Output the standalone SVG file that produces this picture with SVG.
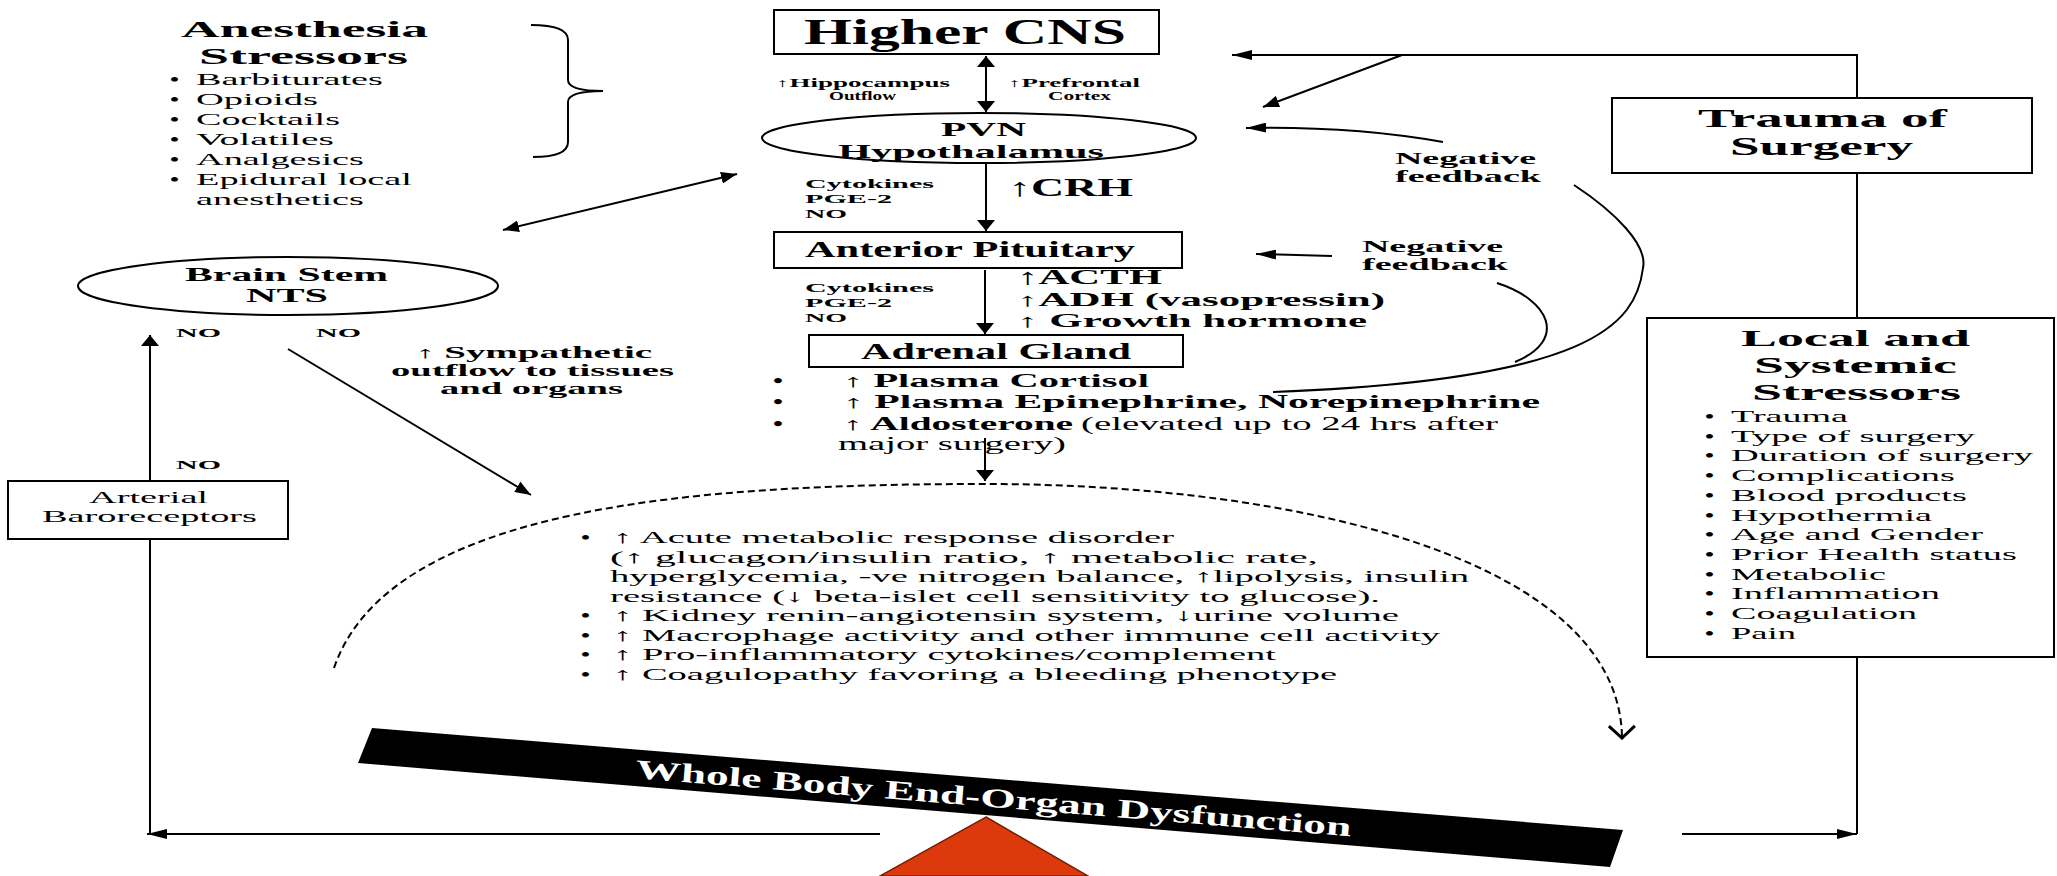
<svg xmlns="http://www.w3.org/2000/svg" width="2057" height="876" viewBox="0 0 2057 876">
<style>
text{font-family:"Liberation Serif","Times New Roman",serif;fill:#000}
.b{font-weight:bold}
.ln{stroke:#000;stroke-width:2;fill:none}
.box{fill:#fff;stroke:#000;stroke-width:2}
.h1{font-size:24px;font-weight:bold}
.h3{font-size:24px;font-weight:bold}
.li{font-size:17.5px;font-weight:normal}
.bu{font-size:17.5px;font-weight:bold}
.sm{font-size:13.3px;font-weight:bold}
.xs{font-size:11.5px;font-weight:bold}
.md{font-size:16px;font-weight:bold}
</style>
<defs>
<marker id="ah" viewBox="0 0 20 10" refX="20" refY="5" markerWidth="20" markerHeight="10" markerUnits="userSpaceOnUse" orient="auto-start-reverse"><path d="M0,0 L20,5 L0,10 z" fill="#000"/></marker>
<marker id="av" viewBox="0 0 11 18" refX="11" refY="9" markerWidth="11" markerHeight="18" markerUnits="userSpaceOnUse" orient="auto-start-reverse"><path d="M0,0 L11,9 L0,18 z" fill="#000"/></marker>
<marker id="ad" viewBox="0 0 16 12" refX="16" refY="6" markerWidth="16" markerHeight="12" markerUnits="userSpaceOnUse" orient="auto-start-reverse"><path d="M0,0 L16,6 L0,12 z" fill="#000"/></marker>
<marker id="aopen" viewBox="-2 -15 16 30" refX="12" refY="0" markerWidth="16" markerHeight="30" markerUnits="userSpaceOnUse" orient="auto"><path d="M0,-13 L12,0 L0,13" fill="none" stroke="#000" stroke-width="3"/></marker>
</defs>
<rect width="2057" height="876" fill="#fff"/>

<g id="connectors">
<line class="ln" x1="986" y1="56" x2="986" y2="112" marker-start="url(#av)" marker-end="url(#av)"/>
<line class="ln" x1="986" y1="164" x2="986" y2="231" marker-end="url(#av)"/>
<line class="ln" x1="985" y1="270" x2="985" y2="334" marker-end="url(#av)"/>
<line class="ln" x1="985" y1="438" x2="985" y2="481" marker-end="url(#av)"/>
<line class="ln" x1="503" y1="230" x2="737" y2="174" marker-start="url(#ad)" marker-end="url(#ad)"/>
<line class="ln" x1="288" y1="349" x2="531" y2="495" marker-end="url(#ad)"/>
<line class="ln" x1="150" y1="481" x2="150" y2="335" marker-end="url(#av)"/>
<line class="ln" x1="150" y1="834" x2="150" y2="539"/>
<line class="ln" x1="880" y1="834" x2="147" y2="834" marker-end="url(#ah)"/>
<line class="ln" x1="1682" y1="834" x2="1857" y2="834" marker-end="url(#ah)"/>
<line class="ln" x1="1857" y1="834" x2="1857" y2="657"/>
<line class="ln" x1="1857" y1="318" x2="1857" y2="173"/>
<polyline class="ln" points="1857,98 1857,55 1232,55" marker-end="url(#ah)"/>
<line class="ln" x1="1402" y1="55" x2="1263" y2="107" marker-end="url(#ad)"/>
<path class="ln" d="M1443,142 Q1353,126 1246,128" marker-end="url(#ah)"/>
<line class="ln" x1="1332" y1="256" x2="1256" y2="254" marker-end="url(#ah)"/>
<path class="ln" d="M1574,185 C1615,212 1648,245 1643,268 C1636,325 1590,380 1273,392" stroke-width="2.5"/>
<path class="ln" d="M1497,283 C1550,300 1568,340 1515,362" stroke-width="2.5"/>
<path class="ln" d="M334,668 C390,505 700,484 985,484 C1300,484 1620,560 1622,738" stroke-width="2.2" stroke-dasharray="7 4" marker-end="url(#aopen)"/>
<path class="ln" d="M531,25 Q568,25 568,40 L568,80 Q568,91 603,91 Q568,91 568,102 L568,142 Q568,157 533,157"/>
</g>

<g id="anesthesia">
<text class="h1"><tspan x="181" y="37" textLength="247" lengthAdjust="spacingAndGlyphs">Anesthesia</tspan><tspan x="199" y="64" textLength="209" lengthAdjust="spacingAndGlyphs">Stressors</tspan></text>
<text class="li"><tspan class="bu" x="170" y="85" textLength="9" lengthAdjust="spacingAndGlyphs">•</tspan><tspan x="196" y="85" textLength="187" lengthAdjust="spacingAndGlyphs">Barbiturates</tspan><tspan class="bu" x="170" y="105" textLength="9" lengthAdjust="spacingAndGlyphs">•</tspan><tspan x="196" y="105" textLength="122" lengthAdjust="spacingAndGlyphs">Opioids</tspan><tspan class="bu" x="170" y="125" textLength="9" lengthAdjust="spacingAndGlyphs">•</tspan><tspan x="196" y="125" textLength="144" lengthAdjust="spacingAndGlyphs">Cocktails</tspan><tspan class="bu" x="170" y="145" textLength="9" lengthAdjust="spacingAndGlyphs">•</tspan><tspan x="196" y="145" textLength="138" lengthAdjust="spacingAndGlyphs">Volatiles</tspan><tspan class="bu" x="170" y="165" textLength="9" lengthAdjust="spacingAndGlyphs">•</tspan><tspan x="196" y="165" textLength="168" lengthAdjust="spacingAndGlyphs">Analgesics</tspan><tspan class="bu" x="170" y="185" textLength="9" lengthAdjust="spacingAndGlyphs">•</tspan><tspan x="196" y="185" textLength="216" lengthAdjust="spacingAndGlyphs">Epidural local</tspan><tspan x="196" y="205" textLength="168" lengthAdjust="spacingAndGlyphs">anesthetics</tspan></text>
</g>

<g id="higher-cns">
<rect class="box" x="774" y="10" width="385" height="44"/>
<text class="b" style="font-size:35px" x="804" y="44" textLength="322" lengthAdjust="spacingAndGlyphs">Higher CNS</text>
</g>
<g id="cns-labels">
<text class="xs"><tspan x="776" y="87" textLength="174" lengthAdjust="spacingAndGlyphs">↑Hippocampus</tspan><tspan x="829" y="100" textLength="67" lengthAdjust="spacingAndGlyphs">Outflow</tspan></text>
<text class="xs"><tspan x="1008" y="87" textLength="132" lengthAdjust="spacingAndGlyphs">↑Prefrontal</tspan><tspan x="1048" y="100" textLength="63" lengthAdjust="spacingAndGlyphs">Cortex</tspan></text>
</g>

<g id="pvn">
<ellipse class="box" cx="979" cy="138" rx="217" ry="25"/>
<text class="b" style="font-size:19.5px"><tspan x="941" y="136" textLength="85" lengthAdjust="spacingAndGlyphs">PVN</tspan><tspan x="838" y="158" textLength="266" lengthAdjust="spacingAndGlyphs">Hypothalamus</tspan></text>
</g>
<g id="pvn-labels">
<text class="sm"><tspan x="805" y="188" textLength="129" lengthAdjust="spacingAndGlyphs">Cytokines</tspan><tspan x="805" y="203" textLength="87" lengthAdjust="spacingAndGlyphs">PGE-2</tspan><tspan x="805" y="218" textLength="42" lengthAdjust="spacingAndGlyphs">NO</tspan></text>
<text class="b" style="font-size:25px" x="1008" y="196" textLength="125" lengthAdjust="spacingAndGlyphs">↑CRH</text>
</g>

<g id="anterior-pituitary">
<rect class="box" x="774" y="232" width="408" height="36"/>
<text class="b" style="font-size:24px" x="805" y="257" textLength="330" lengthAdjust="spacingAndGlyphs">Anterior Pituitary</text>
</g>
<g id="pituitary-labels">
<text class="sm"><tspan x="805" y="292" textLength="129" lengthAdjust="spacingAndGlyphs">Cytokines</tspan><tspan x="805" y="307" textLength="87" lengthAdjust="spacingAndGlyphs">PGE-2</tspan><tspan x="805" y="322" textLength="42" lengthAdjust="spacingAndGlyphs">NO</tspan></text>
<text class="b" style="font-size:18.8px"><tspan style="font-size:22px" x="1017" y="284" textLength="145" lengthAdjust="spacingAndGlyphs">↑ACTH</tspan><tspan x="1017" y="306" textLength="368" lengthAdjust="spacingAndGlyphs">↑ADH (vasopressin)</tspan><tspan x="1017" y="327" textLength="350" lengthAdjust="spacingAndGlyphs">↑  Growth hormone</tspan></text>
</g>

<g id="adrenal-gland">
<rect class="box" x="809" y="335" width="374" height="32"/>
<text class="b" style="font-size:24px" x="861" y="359" textLength="270" lengthAdjust="spacingAndGlyphs">Adrenal Gland</text>
</g>
<g id="adrenal-labels">
<text style="font-size:18px"><tspan class="b" x="773" y="387" textLength="10" lengthAdjust="spacingAndGlyphs">•</tspan><tspan class="b" x="843" y="387" textLength="306" lengthAdjust="spacingAndGlyphs">↑  Plasma Cortisol</tspan><tspan class="b" x="773" y="408" textLength="10" lengthAdjust="spacingAndGlyphs">•</tspan><tspan class="b" x="843" y="408" textLength="697" lengthAdjust="spacingAndGlyphs">↑  Plasma Epinephrine, Norepinephrine</tspan><tspan class="b" x="773" y="430" textLength="10" lengthAdjust="spacingAndGlyphs">•</tspan><tspan class="b" x="843" y="430" textLength="230" lengthAdjust="spacingAndGlyphs">↑  Aldosterone</tspan><tspan x="1081" y="430" textLength="417" lengthAdjust="spacingAndGlyphs">(elevated up to 24 hrs after</tspan><tspan x="838" y="450" textLength="228" lengthAdjust="spacingAndGlyphs">major surgery)</tspan></text>
</g>

<g id="brain-stem">
<ellipse class="box" cx="288" cy="286" rx="210" ry="29"/>
<text class="b" style="font-size:18.8px"><tspan x="185" y="281" textLength="203" lengthAdjust="spacingAndGlyphs">Brain Stem</tspan><tspan x="246" y="302" textLength="82" lengthAdjust="spacingAndGlyphs">NTS</tspan></text>
</g>
<g id="brain-stem-labels">
<text class="sm" x="176" y="337" textLength="45" lengthAdjust="spacingAndGlyphs">NO</text>
<text class="sm" x="316" y="337" textLength="45" lengthAdjust="spacingAndGlyphs">NO</text>
<text class="sm" x="176" y="469" textLength="45" lengthAdjust="spacingAndGlyphs">NO</text>
<text class="md"><tspan x="415" y="358" textLength="237" lengthAdjust="spacingAndGlyphs">↑ Sympathetic</tspan><tspan x="391" y="376" textLength="283" lengthAdjust="spacingAndGlyphs">outflow to tissues</tspan><tspan x="440" y="394" textLength="183" lengthAdjust="spacingAndGlyphs">and organs</tspan></text>
</g>

<g id="arterial-baroreceptors">
<rect class="box" x="8" y="481" width="280" height="58"/>
<text style="font-size:17px"><tspan x="89" y="503" textLength="119" lengthAdjust="spacingAndGlyphs">Arterial</tspan><tspan x="42" y="522" textLength="215" lengthAdjust="spacingAndGlyphs">Baroreceptors</tspan></text>
</g>

<g id="negative-feedback">
<text class="md"><tspan x="1395" y="164" textLength="141" lengthAdjust="spacingAndGlyphs">Negative</tspan><tspan x="1395" y="182" textLength="146" lengthAdjust="spacingAndGlyphs">feedback</tspan></text>
<text class="md"><tspan x="1362" y="252" textLength="141" lengthAdjust="spacingAndGlyphs">Negative</tspan><tspan x="1362" y="270" textLength="146" lengthAdjust="spacingAndGlyphs">feedback</tspan></text>
</g>

<g id="trauma-of-surgery">
<rect class="box" x="1612" y="98" width="420" height="75" stroke-width="2.5"/>
<text class="b" style="font-size:25px"><tspan x="1698" y="127" textLength="249" lengthAdjust="spacingAndGlyphs">Trauma of</tspan><tspan x="1730" y="155" textLength="183" lengthAdjust="spacingAndGlyphs">Surgery</tspan></text>
</g>

<g id="local-systemic-stressors">
<rect class="box" x="1647" y="318" width="407" height="339"/>
<text class="h3"><tspan x="1741" y="346" textLength="229" lengthAdjust="spacingAndGlyphs">Local and</tspan><tspan x="1754" y="373" textLength="203" lengthAdjust="spacingAndGlyphs">Systemic</tspan><tspan x="1752" y="400" textLength="209" lengthAdjust="spacingAndGlyphs">Stressors</tspan></text>
<text class="li"><tspan class="bu" x="1705" y="422" textLength="9" lengthAdjust="spacingAndGlyphs">•</tspan><tspan x="1731" y="422" textLength="117" lengthAdjust="spacingAndGlyphs">Trauma</tspan><tspan class="bu" x="1705" y="441.7" textLength="9" lengthAdjust="spacingAndGlyphs">•</tspan><tspan x="1731" y="441.7" textLength="244" lengthAdjust="spacingAndGlyphs">Type of surgery</tspan><tspan class="bu" x="1705" y="461.4" textLength="9" lengthAdjust="spacingAndGlyphs">•</tspan><tspan x="1731" y="461.4" textLength="302" lengthAdjust="spacingAndGlyphs">Duration of surgery</tspan><tspan class="bu" x="1705" y="481.1" textLength="9" lengthAdjust="spacingAndGlyphs">•</tspan><tspan x="1731" y="481.1" textLength="224" lengthAdjust="spacingAndGlyphs">Complications</tspan><tspan class="bu" x="1705" y="500.8" textLength="9" lengthAdjust="spacingAndGlyphs">•</tspan><tspan x="1731" y="500.8" textLength="236" lengthAdjust="spacingAndGlyphs">Blood products</tspan><tspan class="bu" x="1705" y="520.5" textLength="9" lengthAdjust="spacingAndGlyphs">•</tspan><tspan x="1731" y="520.5" textLength="201" lengthAdjust="spacingAndGlyphs">Hypothermia</tspan><tspan class="bu" x="1705" y="540.2" textLength="9" lengthAdjust="spacingAndGlyphs">•</tspan><tspan x="1731" y="540.2" textLength="252" lengthAdjust="spacingAndGlyphs">Age and Gender</tspan><tspan class="bu" x="1705" y="559.9" textLength="9" lengthAdjust="spacingAndGlyphs">•</tspan><tspan x="1731" y="559.9" textLength="286" lengthAdjust="spacingAndGlyphs">Prior Health status</tspan><tspan class="bu" x="1705" y="579.6" textLength="9" lengthAdjust="spacingAndGlyphs">•</tspan><tspan x="1731" y="579.6" textLength="155" lengthAdjust="spacingAndGlyphs">Metabolic</tspan><tspan class="bu" x="1705" y="599.3" textLength="9" lengthAdjust="spacingAndGlyphs">•</tspan><tspan x="1731" y="599.3" textLength="209" lengthAdjust="spacingAndGlyphs">Inflammation</tspan><tspan class="bu" x="1705" y="619" textLength="9" lengthAdjust="spacingAndGlyphs">•</tspan><tspan x="1731" y="619" textLength="186" lengthAdjust="spacingAndGlyphs">Coagulation</tspan><tspan class="bu" x="1705" y="638.7" textLength="9" lengthAdjust="spacingAndGlyphs">•</tspan><tspan x="1731" y="638.7" textLength="65" lengthAdjust="spacingAndGlyphs">Pain</tspan></text>
</g>

<g id="metabolic-response">
<text class="li"><tspan class="bu" x="581" y="543" textLength="9" lengthAdjust="spacingAndGlyphs">•</tspan><tspan x="613" y="543" textLength="561" lengthAdjust="spacingAndGlyphs">↑ Acute metabolic response disorder</tspan><tspan x="610" y="562.6" textLength="708" lengthAdjust="spacingAndGlyphs">(↑ glucagon/insulin ratio, ↑ metabolic rate,</tspan><tspan x="610" y="582.1" textLength="859" lengthAdjust="spacingAndGlyphs">hyperglycemia, -ve nitrogen balance, ↑lipolysis, insulin</tspan><tspan x="610" y="601.7" textLength="770" lengthAdjust="spacingAndGlyphs">resistance (↓ beta-islet cell sensitivity to glucose).</tspan><tspan class="bu" x="581" y="621.3" textLength="9" lengthAdjust="spacingAndGlyphs">•</tspan><tspan x="613" y="621.3" textLength="786" lengthAdjust="spacingAndGlyphs">↑ Kidney renin-angiotensin system, ↓urine volume</tspan><tspan class="bu" x="581" y="640.9" textLength="9" lengthAdjust="spacingAndGlyphs">•</tspan><tspan x="613" y="640.9" textLength="827" lengthAdjust="spacingAndGlyphs">↑ Macrophage activity and other immune cell activity</tspan><tspan class="bu" x="581" y="660.4" textLength="9" lengthAdjust="spacingAndGlyphs">•</tspan><tspan x="613" y="660.4" textLength="663" lengthAdjust="spacingAndGlyphs">↑ Pro-inflammatory cytokines/complement</tspan><tspan class="bu" x="581" y="680" textLength="9" lengthAdjust="spacingAndGlyphs">•</tspan><tspan x="613" y="680" textLength="724" lengthAdjust="spacingAndGlyphs">↑ Coagulopathy favoring a bleeding phenotype</tspan></text>
</g>

<g id="whole-body">
<polygon points="372,728 1623,830 1610,867 358,763" fill="#000"/>
<text class="b" style="font-size:27px;fill:#fff" transform="translate(635,778) rotate(4.66)" textLength="718" lengthAdjust="spacingAndGlyphs">Whole Body End-Organ Dysfunction</text>
</g>

<g id="fulcrum">
<polygon points="986,817 1088,876 880,876" fill="#dc3a0c" stroke="#7a1e00" stroke-width="1.5"/>
</g>
</svg>
